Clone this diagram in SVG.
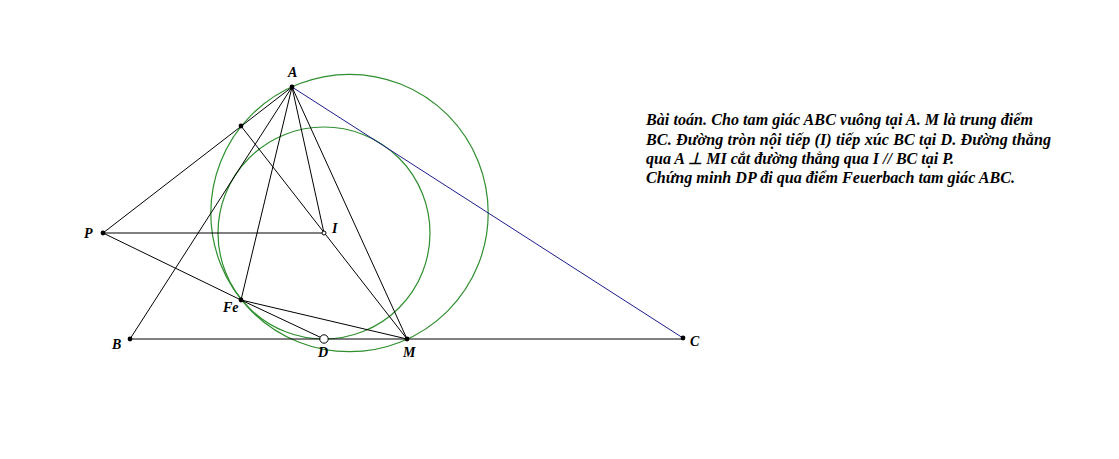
<svg xmlns="http://www.w3.org/2000/svg" width="1119" height="459" viewBox="0 0 1119 459">
<style>
.l{stroke:#000;stroke-width:1;fill:none}
.c{stroke:#2f8f2f;stroke-width:1.2;fill:none}
.p{fill:#000}
.t{font-family:"Liberation Serif",serif;font-style:italic;font-weight:bold;font-size:14px;fill:#000}
.b{font-family:"Liberation Serif",serif;font-style:italic;font-weight:bold;font-size:16.1px;fill:#000}
</style>
<rect width="1119" height="459" fill="#fff"/>
<g id="connectors">
<circle class="c" cx="349.5" cy="213" r="138.7"/>
<circle class="c" cx="324" cy="233" r="106"/>
<path class="l" d="M292 87L130 339M130 339H683M103 233L292 87M103 233H324M103 233L241 300M241 300L324 339M241 300L407 339M241 300L292 87M292 87L324 233M292 87L407 339M241 126L407 339"/>
<path d="M292 87L683 338" fill="none" stroke="#1c1c8c" stroke-width="1"/>
</g>
<g id="node-A"><circle class="p" cx="292" cy="87" r="2.4"/><text class="t" x="288" y="77">A</text></g>
<g id="node-H"><circle class="p" cx="241" cy="126" r="2.4"/></g>
<g id="node-P"><circle class="p" cx="103" cy="233" r="2.4"/><text class="t" x="84" y="238">P</text></g>
<g id="node-I"><circle cx="324" cy="233" r="2" fill="#fff" stroke="#000" stroke-width="1"/><text class="t" x="332" y="233">I</text></g>
<g id="node-Fe"><circle class="p" cx="241" cy="300" r="2.4"/><text class="t" x="223" y="312">Fe</text></g>
<g id="node-B"><circle class="p" cx="130" cy="339" r="2.4"/><text class="t" x="112" y="349">B</text></g>
<g id="node-D"><circle cx="324" cy="339" r="4.2" fill="#fff" stroke="#000" stroke-width="1"/><text class="t" x="318" y="357">D</text></g>
<g id="node-M"><circle class="p" cx="407" cy="339" r="2.4"/><text class="t" x="403" y="357">M</text></g>
<g id="node-C"><circle class="p" cx="683" cy="338" r="2.4"/><text class="t" x="690" y="346">C</text></g>
<g id="statement">
<text class="b" x="646" y="125" textLength="387">Bài toán. Cho tam giác ABC vuông tại A. M là trung điểm</text>
<text class="b" x="646" y="145" textLength="405">BC. Đường tròn nội tiếp (I) tiếp xúc BC tại D. Đường thẳng</text>
<text class="b" x="646" y="164" textLength="308">qua A ⊥ MI cắt đường thẳng qua I // BC tại P.</text>
<text class="b" x="646" y="183" textLength="369">Chứng minh DP đi qua điểm Feuerbach tam giác ABC.</text>
</g>
</svg>
